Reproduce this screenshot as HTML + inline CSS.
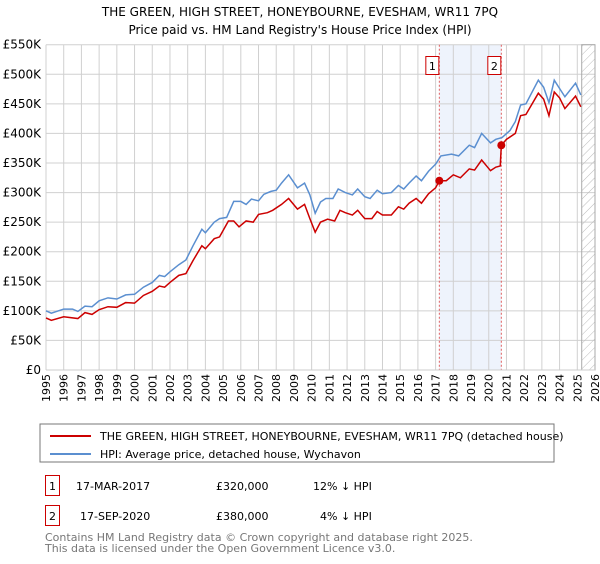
<!DOCTYPE html>
<html><head><meta charset="utf-8"><style>
body{margin:0;background:#fff;font-family:"DejaVu Sans","Liberation Sans",sans-serif;}
svg text{font-family:"DejaVu Sans","Liberation Sans",sans-serif;}
</style></head><body>
<svg id="chart" width="600" height="560" xmlns="http://www.w3.org/2000/svg">
<defs><pattern id="hatch" width="6" height="6" patternUnits="userSpaceOnUse" patternTransform="rotate(45)"><line x1="0" y1="0" x2="0" y2="6" stroke="#bbb" stroke-width="1"/></pattern></defs>
<text x="300" y="16" text-anchor="middle" font-size="12">THE GREEN, HIGH STREET, HONEYBOURNE, EVESHAM, WR11 7PQ</text>
<text x="300" y="34" text-anchor="middle" font-size="12">Price paid vs. HM Land Registry's House Price Index (HPI)</text>
<g id="plot"></g>
<rect x="40" y="424" width="514" height="38" fill="#fff" stroke="#777"/>
<line x1="50" y1="436" x2="91" y2="436" stroke="#cc0000" stroke-width="2"/>
<text x="100" y="440" font-size="11">THE GREEN, HIGH STREET, HONEYBOURNE, EVESHAM, WR11 7PQ (detached house)</text>
<line x1="50" y1="454" x2="91" y2="454" stroke="#5b8fd0" stroke-width="2"/>
<text x="100" y="458" font-size="11">HPI: Average price, detached house, Wychavon</text>
<g>
<rect x="45.5" y="475.5" width="14" height="20" fill="#fff" stroke="#cc0000"/>
<text x="52.5" y="490" text-anchor="middle" font-size="11">1</text>
<text x="76" y="490" font-size="11">17-MAR-2017</text>
<text x="216" y="490" font-size="11">£320,000</text>
<text x="313" y="490" font-size="11">12% ↓ HPI</text></g>
<g>
<rect x="45.5" y="505.5" width="14" height="20" fill="#fff" stroke="#cc0000"/>
<text x="52.5" y="520" text-anchor="middle" font-size="11">2</text>
<text x="80" y="520" font-size="11">17-SEP-2020</text>
<text x="216" y="520" font-size="11">£380,000</text>
<text x="320" y="520" font-size="11">4% ↓ HPI</text></g>
<text x="45" y="541" font-size="11" fill="#777">Contains HM Land Registry data © Crown copyright and database right 2025.</text>
<text x="45" y="552" font-size="11" fill="#777">This data is licensed under the Open Government Licence v3.0.</text>
</svg>
<script>
const yTicks=[0,50,100,150,200,250,300,350,400,450,500,550];
const yTickLabels=["£0","£50K","£100K","£150K","£200K","£250K","£300K","£350K","£400K","£450K","£500K","£550K"];
const years=[1995,1996,1997,1998,1999,2000,2001,2002,2003,2004,2005,2006,2007,2008,2009,2010,2011,2012,2013,2014,2015,2016,2017,2018,2019,2020,2021,2022,2023,2024,2025,2026];
const hpiT=[1995,1995.3,1996,1996.5,1996.8,1997.2,1997.6,1998,1998.5,1999,1999.5,2000,2000.5,2001,2001.4,2001.7,2002,2002.5,2002.9,2003.3,2003.8,2004,2004.5,2004.8,2005.2,2005.6,2006,2006.3,2006.6,2007,2007.3,2007.7,2008,2008.3,2008.7,2009.2,2009.6,2009.9,2010.2,2010.5,2010.8,2011.2,2011.5,2011.9,2012.3,2012.6,2013,2013.3,2013.7,2014,2014.5,2014.9,2015.2,2015.5,2015.9,2016.2,2016.6,2017,2017.3,2017.9,2018.3,2018.9,2019.2,2019.6,2020.1,2020.4,2020.75,2021.2,2021.5,2021.8,2022.1,2022.8,2023.1,2023.4,2023.7,2024.0,2024.3,2024.9,2025.2];
const hpiV=[100,96,103,103,99,108,107,117,122,120,127,128,140,148,160,158,166,178,186,210,238,232,250,256,258,285,285,280,289,286,297,302,304,316,330,308,316,296,265,284,290,290,306,300,296,306,293,290,304,298,300,312,306,316,328,320,336,348,362,365,362,380,376,400,384,390,393,405,420,448,450,490,478,452,490,476,462,485,465];
const priceT=[1995,1995.3,1996,1996.8,1997.2,1997.6,1998,1998.5,1999,1999.5,2000,2000.5,2001,2001.4,2001.7,2002,2002.5,2002.9,2003.3,2003.8,2004,2004.5,2004.8,2005.3,2005.6,2005.9,2006.3,2006.7,2007,2007.5,2007.8,2008.3,2008.7,2009.2,2009.6,2009.9,2010.2,2010.5,2010.9,2011.3,2011.6,2011.9,2012.3,2012.6,2013,2013.4,2013.7,2014,2014.5,2014.9,2015.2,2015.5,2015.9,2016.2,2016.6,2017,2017.21,2017.6,2018,2018.4,2018.9,2019.2,2019.6,2020.1,2020.4,2020.65,2020.71,2021,2021.5,2021.8,2022.1,2022.8,2023.1,2023.4,2023.7,2024.0,2024.3,2024.9,2025.2];
const priceV=[88,84,90,87,97,94,102,107,106,114,113,126,133,142,140,148,160,163,185,210,205,222,225,252,252,242,252,250,263,266,270,280,290,272,280,256,233,250,255,252,270,266,262,270,256,256,268,262,262,276,272,282,290,282,298,308,320,320,330,325,340,338,355,337,343,345,380,390,400,430,432,468,458,430,470,460,442,463,445];
const saleT=[2017.21,2020.71];
const saleV=[320,380];
const saleLabels=["1","2"];
const X0=46,X1=595,Y0=370,Y1=44.7,T0=1995,T1=2026,VMAX=550;
const xs=t=>X0+(t-T0)/(T1-T0)*(X1-X0);
const ys=v=>Y0-v/VMAX*(Y0-Y1);
const NS="http://www.w3.org/2000/svg";
const g=document.getElementById('plot');
function mk(tag,attrs,parent){const e=document.createElementNS(NS,tag);for(const k in attrs)e.setAttribute(k,attrs[k]);(parent||g).appendChild(e);return e;}
const band=mk('rect',{x:xs(saleT[0]),y:Y1,width:xs(saleT[1])-xs(saleT[0]),height:Y0-Y1,fill:'#eef3fc'});


years.forEach(yr=>{const l=mk('line',{x1:xs(yr),x2:xs(yr),y1:Y1,y2:Y0,stroke:'#d0d0d0'});


const t=mk('text',{x:0,y:0,'font-size':11,'text-anchor':'end',transform:`translate(${xs(yr)+4},${Y0+4}) rotate(-90)`});t.textContent=yr;

});
yTicks.forEach((v,i)=>{const l=mk('line',{x1:X0,x2:X1,y1:ys(v),y2:ys(v),stroke:'#d0d0d0'});


const t=mk('text',{x:X0-5,y:ys(v)+4,'font-size':12,'text-anchor':'end'});t.textContent=yTickLabels[i];

});
const hx=xs(2025.25);
const h=mk('rect',{x:hx,y:Y1,width:X1-hx,height:Y0-Y1,fill:'url(#hatch)',stroke:'#aaa'});


saleT.forEach((t,i)=>{const l=mk('line',{x1:xs(t),x2:xs(t),y1:Y1,y2:Y0,stroke:'#e06060','stroke-dasharray':'2,2'});


const r=mk('rect',{x:xs(t)-13.5,y:56.5,width:13,height:18,fill:'#fff',stroke:'#cc0000'});


const tx=mk('text',{x:xs(t)-7,y:70,'font-size':11,'text-anchor':'middle'});tx.textContent=saleLabels[i];

});
const hp=mk('polyline',{points:hpiT.map((t,i)=>xs(t)+','+ys(hpiV[i])).join(' '),fill:'none',stroke:'#5b8fd0','stroke-width':1.5});


const pp=mk('polyline',{points:priceT.map((t,i)=>xs(t)+','+ys(priceV[i])).join(' '),fill:'none',stroke:'#cc0000','stroke-width':1.5});


saleT.forEach((t,i)=>{const c=mk('circle',{cx:xs(t),cy:ys(saleV[i]),r:4,fill:'#cc0000'});

});
const ax=mk('line',{x1:X0,x2:X1,y1:Y0,y2:Y0,stroke:'#ccc'});


</script>
</body></html>
